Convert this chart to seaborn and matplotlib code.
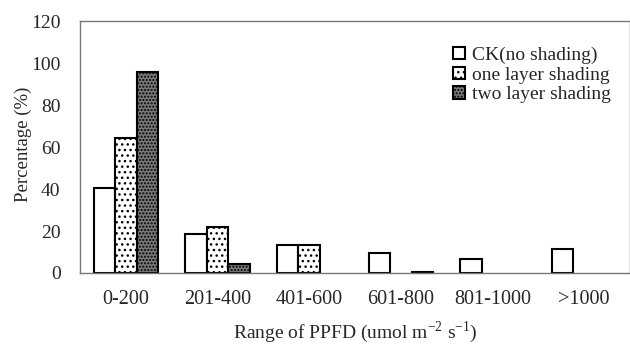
import numpy as np
import pandas as pd
import matplotlib
matplotlib.use('Agg')
import matplotlib.pyplot as plt
import seaborn as sns
from matplotlib.patches import Patch

sns.set_style('white')
plt.rcParams['font.family'] = ['Liberation Serif', 'DejaVu Serif']
plt.rcParams['mathtext.fontset'] = 'custom'
plt.rcParams['mathtext.rm'] = 'Liberation Serif'
plt.rcParams['hatch.color'] = 'black'
plt.rcParams['hatch.linewidth'] = 1.0

ranges = ['0-200', '201-400', '401-600', '601-800', '801-1000', '>1000']
treatments = ['CK(no shading)', 'one layer shading', 'two layer shading']
ck = [40.6, 18.7, 13.3, 9.4, 6.8, 11.3]
one_layer = [64.4, 22.0, 13.3, np.nan, np.nan, np.nan]
two_layer = [95.6, 4.3, np.nan, 0.6, np.nan, np.nan]

rows = []
for t, vals in zip(treatments, [ck, one_layer, two_layer]):
    for r, v in zip(ranges, vals):
        rows.append({'range': r, 'treatment': t, 'pct': v})
df = pd.DataFrame(rows).dropna()

faces = {'CK(no shading)': 'white', 'one layer shading': 'white', 'two layer shading': '#7a7a7a'}
hatches = {'CK(no shading)': '', 'one layer shading': '...', 'two layer shading': '.....'}

fig = plt.figure(figsize=(6.3, 3.46), dpi=100)
ax = fig.add_axes([0.127, 0.211, 0.873, 0.728])

sns.barplot(data=df, x='range', y='pct', hue='treatment', order=ranges,
            hue_order=treatments, palette=faces, width=0.7, saturation=1,
            edgecolor='black', linewidth=1.5, legend=False, ax=ax)

# hatch each bar by its series
for container, t in zip(ax.containers, treatments):
    for bar in container:
        bar.set_hatch(hatches[t])

ax.set_ylim(0, 120)
ax.set_xlim(-0.5, 5.5)
ax.set_yticks(range(0, 121, 20))
ax.set_xticks(range(len(ranges)))
ax.set_xticklabels(ranges, fontsize=14.5)
ax.tick_params(axis='x', length=0, pad=12)
ax.set_xticks(np.arange(-0.5, 6, 1), minor=True)
ax.tick_params(axis='x', which='minor', length=3, direction='out', color='#888888')
ax.tick_params(axis='y', length=3, direction='in', labelsize=14, pad=14, color='#888888')

for side in ['left', 'top', 'right', 'bottom']:
    ax.spines[side].set_color('#777777')
    ax.spines[side].set_linewidth(1.0)

ax.set_xlabel('Range of PPFD (umol m$^{\\mathregular{-2}}$ s$^{\\mathregular{-1}}$)',
              fontsize=14, labelpad=8)
ax.set_ylabel('Percentage (%)', fontsize=13.5)
ax.yaxis.set_label_coords(-0.088, 0.51)

handles = [Patch(facecolor=faces[t], edgecolor='black', hatch=hatches[t], linewidth=1.5)
           for t in treatments]
ax.legend(handles, treatments, loc='upper right', bbox_to_anchor=(0.966, 0.9),
          frameon=False, fontsize=14, handlelength=0.6, handleheight=0.6,
          handletextpad=0.4, labelspacing=0.15, borderaxespad=0, borderpad=0)

fig.savefig('out.png', dpi=100)
